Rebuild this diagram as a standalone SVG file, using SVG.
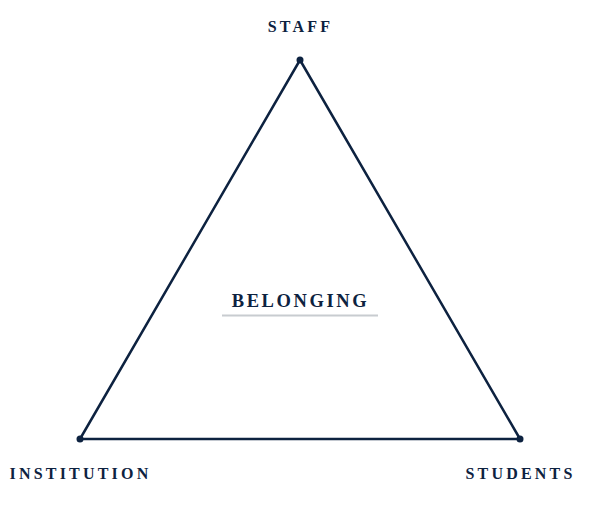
<svg xmlns="http://www.w3.org/2000/svg" width="600" height="520" viewBox="0 0 600 520">
<style>
.lbl{font-family:"Liberation Serif","DejaVu Serif",serif;font-weight:bold;fill:#0d2240;text-anchor:middle}
.v{font-size:16px;letter-spacing:3.2px}
.edge{stroke:#0d2240;stroke-width:2.5;fill:none;stroke-linejoin:round}
.dot{fill:#0d2240}
</style>
<rect width="600" height="520" fill="#ffffff"/>
<g id="connectors">
<path class="edge" d="M300 60 L80 439 L520 439 Z"/>
</g>
<g id="staff">
<circle class="dot" cx="300" cy="60" r="3.5"/>
<text class="lbl v" x="300.5" y="32">STAFF</text>
</g>
<g id="institution">
<circle class="dot" cx="80" cy="439" r="3.5"/>
<text class="lbl v" x="80.5" y="479">INSTITUTION</text>
</g>
<g id="students">
<circle class="dot" cx="520" cy="439" r="3.5"/>
<text class="lbl v" x="520.5" y="479">STUDENTS</text>
</g>
<g id="belonging">
<text class="lbl" x="300.5" y="307" font-size="18.5" letter-spacing="2.6">BELONGING</text>
<line x1="222" y1="315.5" x2="378" y2="315.5" stroke="#c8ccd0" stroke-width="2"/>
</g>
</svg>
